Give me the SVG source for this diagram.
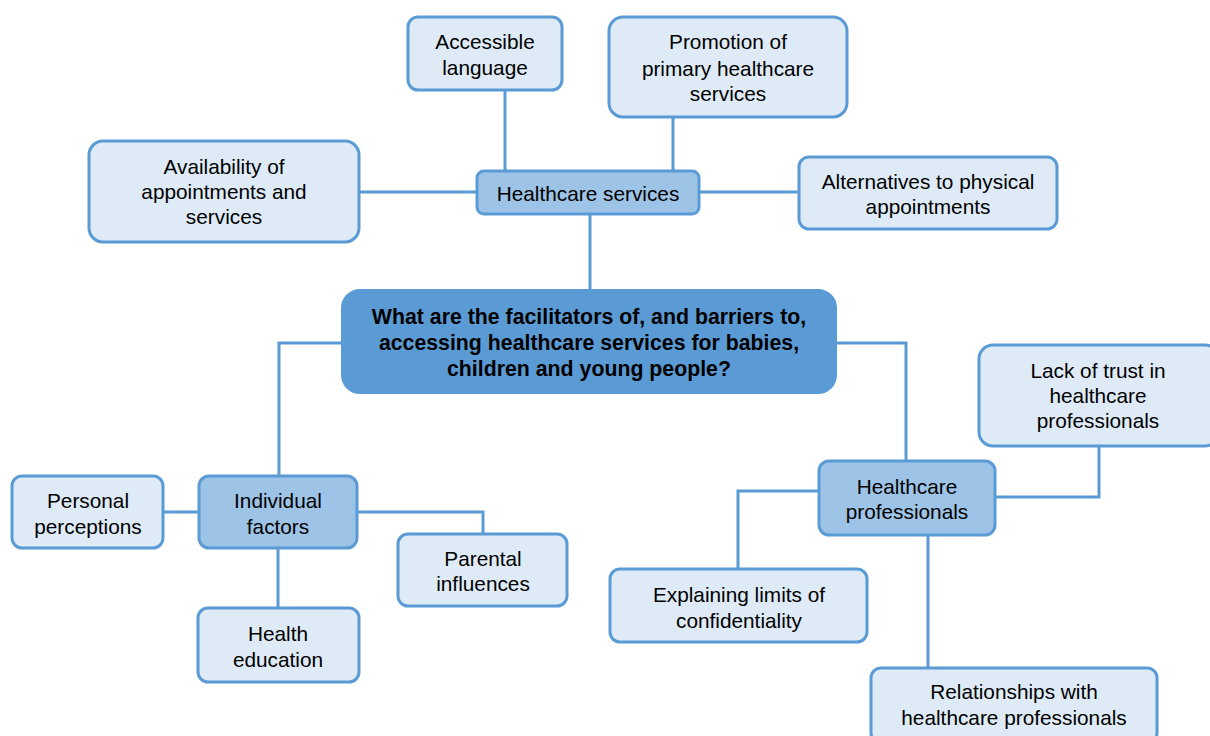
<svg xmlns="http://www.w3.org/2000/svg" width="1210" height="736" viewBox="0 0 1210 736">
<style>
.leaf{fill:#deebf7;stroke:#5b9bd5;stroke-width:3}
.mid{fill:#9dc3e6;stroke:#5b9bd5;stroke-width:3}
.root{fill:#5b9bd5;stroke:#5b9bd5;stroke-width:2}
text{font-family:"Liberation Sans",Arial,sans-serif;font-size:20.8px;fill:#000;text-anchor:middle}
.b{font-weight:bold;font-size:21.3px}
#connectors path{fill:none;stroke:#5b9bd5;stroke-width:3}
</style>
<rect width="1210" height="736" fill="#fff"/>
<g id="connectors">
<path d="M505,90V171"/>
<path d="M673,117V171"/>
<path d="M359,192H477"/>
<path d="M699,192H799"/>
<path d="M590,214V290"/>
<path d="M342,343H279V476"/>
<path d="M836,343H906V461"/>
<path d="M163,512H199"/>
<path d="M357,512H483V534"/>
<path d="M278,548V608"/>
<path d="M995,497H1099V446"/>
<path d="M819,491H738V569"/>
<path d="M928,535V668"/>
</g>
<g id="root"><rect class="root" x="342" y="290" width="494" height="103" rx="18"/>
<text class="b" x="589" y="324">What are the facilitators of, and barriers to,</text>
<text class="b" x="589" y="350">accessing healthcare services for babies,</text>
<text class="b" x="589" y="376">children and young people?</text></g>
<g id="healthcare-services"><rect class="mid" x="477" y="171" width="222" height="43" rx="7"/>
<text x="588" y="201">Healthcare services</text></g>
<g id="accessible-language"><rect class="leaf" x="408" y="17" width="154" height="73" rx="10"/>
<text x="485" y="49">Accessible</text><text x="485" y="75">language</text></g>
<g id="promotion"><rect class="leaf" x="609" y="17" width="238" height="100" rx="14"/>
<text x="728" y="49">Promotion of</text><text x="728" y="76">primary healthcare</text><text x="728" y="101">services</text></g>
<g id="availability"><rect class="leaf" x="89" y="141" width="270" height="101" rx="14"/>
<text x="224" y="174">Availability of</text><text x="224" y="199">appointments and</text><text x="224" y="224">services</text></g>
<g id="alternatives"><rect class="leaf" x="799" y="157" width="258" height="72" rx="10"/>
<text x="928" y="189">Alternatives to physical</text><text x="928" y="214">appointments</text></g>
<g id="individual-factors"><rect class="mid" x="199" y="476" width="158" height="72" rx="10"/>
<text x="278" y="508">Individual</text><text x="278" y="534">factors</text></g>
<g id="personal-perceptions"><rect class="leaf" x="12" y="476" width="151" height="72" rx="10"/>
<text x="88" y="508">Personal</text><text x="88" y="534">perceptions</text></g>
<g id="parental-influences"><rect class="leaf" x="398" y="534" width="169" height="72" rx="10"/>
<text x="483" y="566">Parental</text><text x="483" y="591">influences</text></g>
<g id="health-education"><rect class="leaf" x="198" y="608" width="161" height="74" rx="10"/>
<text x="278" y="641">Health</text><text x="278" y="667">education</text></g>
<g id="healthcare-professionals"><rect class="mid" x="819" y="461" width="176" height="74" rx="10"/>
<text x="907" y="494">Healthcare</text><text x="907" y="519">professionals</text></g>
<g id="lack-of-trust"><rect class="leaf" x="979" y="345" width="240" height="101" rx="14"/>
<text x="1098" y="378">Lack of trust in</text><text x="1098" y="403">healthcare</text><text x="1098" y="428">professionals</text></g>
<g id="explaining-limits"><rect class="leaf" x="610" y="569" width="257" height="73" rx="10"/>
<text x="739" y="602">Explaining limits of</text><text x="739" y="628">confidentiality</text></g>
<g id="relationships"><rect class="leaf" x="871" y="668" width="286" height="75" rx="10"/>
<text x="1014" y="699">Relationships with</text><text x="1014" y="725">healthcare professionals</text></g>
</svg>
